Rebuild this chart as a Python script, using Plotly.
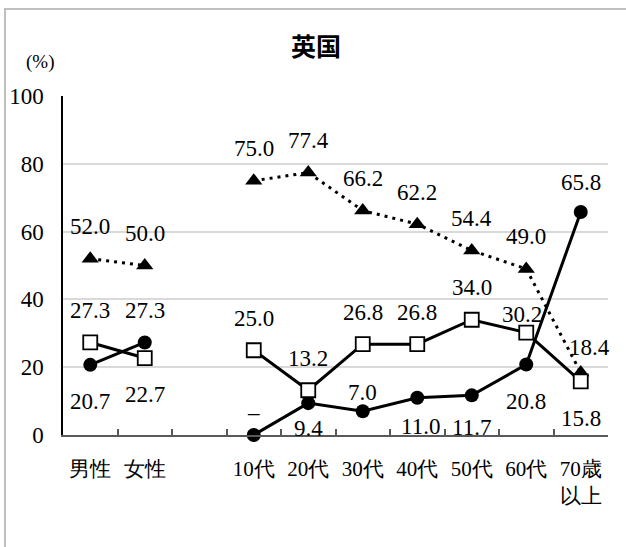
import plotly.graph_objects as go

categories = ["男性", "女性", " ", "10代", "20代", "30代", "40代", "50代", "60代", "70歳<br>以上"]
tri_values = [52.0, 50.0, None, 75.0, 77.4, 66.2, 62.2, 54.4, 49.0, 18.4]
sq_values = [27.3, 22.7, None, 25.0, 13.2, 26.8, 26.8, 34.0, 30.2, 15.8]
circ_values = [20.7, 27.3, None, 0.0, 9.4, 7.0, 11.0, 11.7, 20.8, 65.8]
tri_labels = ["52.0", "50.0", None, "75.0", "77.4", "66.2", "62.2", "54.4", "49.0", "18.4"]
sq_labels = ["27.3", "22.7", None, "25.0", "13.2", "26.8", "26.8", "34.0", "30.2", "15.8"]
circ_labels = ["20.7", "27.3", None, "–", "9.4", "7.0", "11.0", "11.7", "20.8", "65.8"]
y_ticks = [0, 20, 40, 60, 80, 100]

# label offsets (xshift, yshift) in pixels
tri_off = [(0, 32), (0, 32), None, (0, 32), (0, 32), (0, 32), (0, 32), (0, 32), (0, 32), (9, 25)]
sq_off = [(0, 32), (0, -36), None, (0, 32), (0, 32), (0, 32), (0, 32), (0, 32), (-4, 18), (0, -37)]
circ_off = [(0, -37), (0, 32), None, (0, 23), (0, -25), (0, 19), (3, -29), (0, -32), (0, -37), (0, 29)]

SERIF = "'Liberation Serif', 'DejaVu Serif', serif"

fig = go.Figure()
fig.add_trace(go.Scatter(
    x=categories, y=tri_values, mode="lines+markers", cliponaxis=False,
    line=dict(color="black", width=3, dash="3px,5px"),
    marker=dict(symbol="triangle-up", size=15, color="black"),
    connectgaps=False, showlegend=False))
fig.add_trace(go.Scatter(
    x=categories, y=circ_values, mode="lines+markers", cliponaxis=False,
    line=dict(color="black", width=3),
    marker=dict(symbol="circle", size=14, color="black"),
    connectgaps=False, showlegend=False))
fig.add_trace(go.Scatter(
    x=categories, y=sq_values, mode="lines+markers", cliponaxis=False,
    line=dict(color="black", width=3),
    marker=dict(symbol="square", size=14, color="white", line=dict(color="black", width=1.8)),
    connectgaps=False, showlegend=False))

annotations = []
for vals, labs, offs in [(tri_values, tri_labels, tri_off), (sq_values, sq_labels, sq_off),
                         (circ_values, circ_labels, circ_off)]:
    for c, v, lab, off in zip(categories, vals, labs, offs):
        if v is None:
            continue
        annotations.append(dict(
            x=c, y=v, xref="x", yref="y", text=lab, showarrow=False,
            xshift=off[0], yshift=off[1], xanchor="center", yanchor="middle",
            font=dict(family=SERIF, size=23, color="black")))

annotations.append(dict(x=-0.042, y=1.10, xref="paper", yref="paper", text="(%)",
                        showarrow=False, xanchor="center", yanchor="middle",
                        font=dict(family=SERIF, size=19, color="black")))

W, H = 626, 547
L, R, T, B = 63, 18, 96, 112

fig.update_layout(
    width=W, height=H,
    margin=dict(l=L, r=R, t=T, b=B, autoexpand=False),
    paper_bgcolor="white", plot_bgcolor="white",
    title=dict(text="<b>英国</b>", x=316 / W, y=1 - 47 / H, xanchor="center", yanchor="middle",
               font=dict(family="Noto Sans CJK JP", size=25, color="black")),
    annotations=annotations,
    xaxis=dict(type="category", range=[-0.5, 9.5], categoryorder="array", categoryarray=categories,
               automargin=False,
               showline=True, linecolor="#595959", linewidth=1.5,
               ticks="inside", tickson="boundaries", ticklen=6, tickcolor="#595959", tickwidth=1.5,
               showgrid=False, ticklabelstandoff=14,
               tickfont=dict(family=SERIF, size=21, color="black")),
    yaxis=dict(range=[0, 100], tickvals=y_ticks, showline=True, linecolor="black", linewidth=1.5,
               automargin=False,
               showgrid=True, gridcolor="#d9d9d9", gridwidth=1.5, zeroline=False,
               ticks="", ticklabelstandoff=13,
               tickfont=dict(family=SERIF, size=23, color="black")),
)

post = (
    "document.body.style.margin='0';document.body.style.padding='0';"
    "document.body.style.overflow='hidden';"
    "var fr=document.createElement('div');"
    "fr.style.cssText='position:absolute;left:4px;top:8px;width:700px;height:700px;"
    "border-top:2px solid #bfbfbf;border-left:2px solid #bfbfbf;pointer-events:none;z-index:10;';"
    "document.body.appendChild(fr);"
)

fig.write_html("out.html", config={"displayModeBar": False}, post_script=post)
